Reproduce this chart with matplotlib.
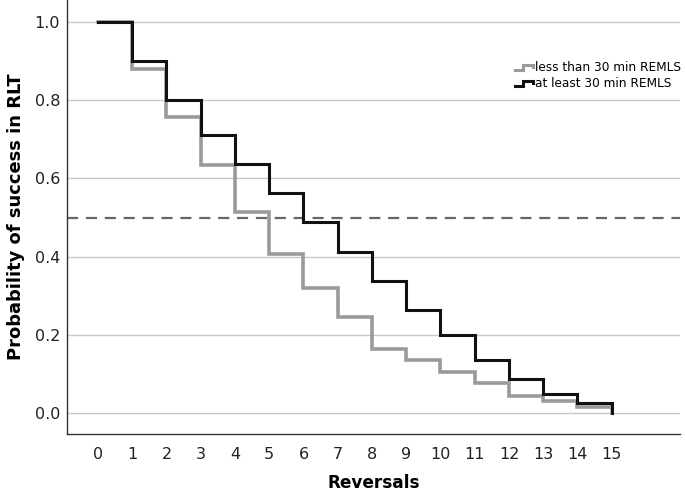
import matplotlib
matplotlib.use("Agg")
import matplotlib.pyplot as plt
from matplotlib.lines import Line2D
from matplotlib.legend_handler import HandlerBase

reversals = list(range(0, 16))
less_than_30 = [1.0, 0.879, 0.758, 0.635, 0.515, 0.407, 0.319, 0.245, 0.165,
                0.136, 0.106, 0.076, 0.044, 0.031, 0.015, 0.0]
at_least_30 = [1.0, 0.900, 0.800, 0.712, 0.637, 0.563, 0.488, 0.412, 0.338,
               0.263, 0.200, 0.136, 0.086, 0.050, 0.025, 0.0]
labels = ["less than 30 min REMLS", "at least 30 min REMLS"]
yticks = [0.0, 0.2, 0.4, 0.6, 0.8, 1.0]

plt.rcParams['font.family'] = ['DejaVu Sans']

fig = plt.figure(figsize=(6.85, 4.94), dpi=100)
ax = fig.add_axes([0.098, 0.121, 0.895, 0.879])


def step_xy(x, y):
    xs, ys = [x[0]], [y[0]]
    for i in range(1, len(x)):
        xs += [x[i], x[i]]
        ys += [y[i - 1], y[i]]
    return xs, ys


for v in yticks:
    ax.axhline(v, color='#c8c8c8', lw=1.0, zorder=0)
ax.axhline(0.5, color='#666666', lw=1.6, ls=(0, (5, 3.5)), zorder=1)

gx, gy = step_xy(reversals, less_than_30)
bx, by = step_xy(reversals, at_least_30)
ax.plot(gx, gy, color='#9a9a9a', lw=2.6, solid_joinstyle='miter', zorder=2)
ax.plot(bx, by, color='#111111', lw=2.2, solid_joinstyle='miter', zorder=3)

ax.set_xlim(-0.9, 17.0)
ax.set_ylim(-0.054, 1.056)
ax.set_xticks(reversals)
ax.set_yticks(yticks)
ax.set_yticklabels([f"{v:.1f}" for v in yticks])
ax.tick_params(axis='x', length=0, labelsize=11.5, colors='#222222', pad=9)
ax.tick_params(axis='y', length=0, labelsize=11.5, colors='#222222', pad=5)
ax.spines['top'].set_visible(False)
ax.spines['right'].set_visible(False)
for s in ['left', 'bottom']:
    ax.spines[s].set_color('#333333')
    ax.spines[s].set_linewidth(1.0)

ax.set_xlabel("Reversals", fontsize=12.2, fontweight='bold', labelpad=9)
ax.set_ylabel("Probability of success in RLT", fontsize=12.9, fontweight='bold', labelpad=7)


class StepHandler(HandlerBase):
    def create_artists(self, legend, orig_handle, xdescent, ydescent, width, height, fontsize, trans):
        x0, w, h = -xdescent, width, height
        xs = [x0, x0 + 0.4 * w, x0 + 0.4 * w, x0 + 0.92 * w, x0 + 0.92 * w]
        ys = [0.2 * h, 0.2 * h, 0.8 * h, 0.8 * h, 0.5 * h]
        ln = Line2D(xs, ys, color=orig_handle.get_color(), lw=orig_handle.get_linewidth(),
                    solid_joinstyle='miter')
        ln.set_transform(trans)
        return [ln]


h1 = Line2D([], [], color='#9a9a9a', lw=2.2)
h2 = Line2D([], [], color='#111111', lw=2.2)
leg = ax.legend([h1, h2], labels, loc='upper left', bbox_to_anchor=(0.7165, 0.878),
                frameon=False, fontsize=8.7, handlelength=1.6, handletextpad=0.1,
                labelspacing=0.25, borderpad=0.2,
                handler_map={Line2D: StepHandler()})

fig.savefig("out.png", dpi=100)
